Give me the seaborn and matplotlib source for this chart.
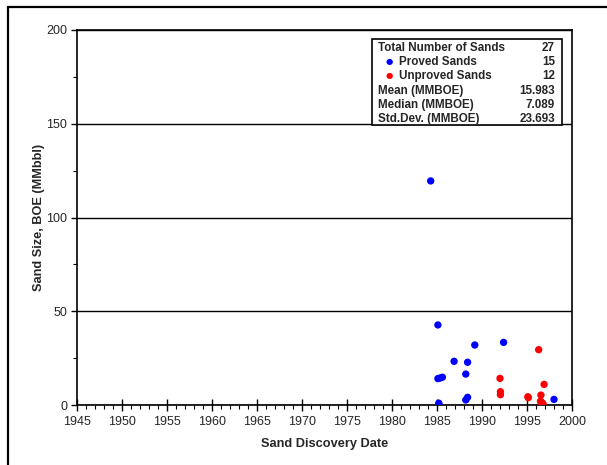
import numpy as np
import pandas as pd
import seaborn as sns
import matplotlib.pyplot as plt
from matplotlib.lines import Line2D
from matplotlib.patches import Rectangle
from matplotlib.ticker import MultipleLocator

# discovery year and size (MMBOE)
proved_year = [1984.3, 1985.1, 1992.4, 1989.2, 1986.9, 1988.4, 1988.2,
               1985.1, 1985.35, 1985.6, 1985.2, 1985.2, 1988.2, 1988.4, 1998.0]
proved_size = [119.5, 42.7, 33.4, 32.0, 23.3, 22.8, 16.5,
               14.1, 14.4, 14.8, 1.0, 0.3, 2.7, 4.1, 3.0]
unproved_year = [1996.3, 1992.0, 1996.9, 1992.05, 1992.05, 1995.1, 1995.15,
                 1996.55, 1996.5, 1996.6, 1996.7, 1996.8]
unproved_size = [29.5, 14.2, 11.0, 7.1, 5.5, 4.4, 3.9,
                 5.3, 2.0, 1.5, 1.0, 0.5]

stats_labels = ["Total Number of Sands", "Proved Sands", "Unproved Sands",
                "Mean (MMBOE)", "Median (MMBOE)", "Std.Dev. (MMBOE)"]
stats_values = ["27", "15", "12", "15.983", "7.089", "23.693"]

df = pd.DataFrame({
    "year": proved_year + unproved_year,
    "size": proved_size + unproved_size,
    "status": ["Proved"] * len(proved_year) + ["Unproved"] * len(unproved_year),
})

sns.set_style("white")
plt.rcParams['font.family'] = ['Liberation Sans', 'DejaVu Sans']

fig = plt.figure(figsize=(6.07, 4.65), dpi=100)
ax = fig.add_axes([0.1269, 0.1290, 0.8154, 0.8065])

ax.yaxis.grid(True, color='black', linewidth=1)
ax.set_axisbelow(True)

sns.scatterplot(data=df, x="year", y="size", hue="status",
                palette={"Proved": "#0000ff", "Unproved": "#ff0000"},
                s=28, edgecolor='none', legend=False, ax=ax, zorder=3)

ax.set_xlim(1945, 2000)
ax.set_ylim(0, 200)
ax.xaxis.set_major_locator(MultipleLocator(5))
ax.xaxis.set_minor_locator(MultipleLocator(1))
ax.yaxis.set_major_locator(MultipleLocator(50))
ax.yaxis.set_minor_locator(MultipleLocator(25))
ax.tick_params(which='both', bottom=True, left=True, top=False, right=False)
ax.tick_params(axis='x', which='major', direction='inout', length=8, width=1,
               labelsize=9, pad=4, color='black')
ax.tick_params(axis='x', which='minor', direction='out', length=3, width=0.8,
               color='black')
ax.tick_params(axis='y', which='major', direction='out', length=4, width=1,
               labelsize=9, pad=3, color='black')
ax.tick_params(axis='y', which='minor', direction='out', length=3, width=0.8,
               color='black')

for sp in ax.spines.values():
    sp.set_color('black')
    sp.set_linewidth(1.2)

ax.set_xlabel("Sand Discovery Date", fontsize=9.2, fontweight='bold', labelpad=7)
ax.set_ylabel("Sand Size, BOE (MMbbl)", fontsize=9.2, fontweight='bold', labelpad=1)

# statistics box
bx0, bx1 = (372 - 77) / 495, (562 - 77) / 495
by0, by1 = (405 - 125) / 375, (405 - 39) / 375
ax.add_patch(Rectangle((bx0, by0), bx1 - bx0, by1 - by0, transform=ax.transAxes,
                       facecolor='white', edgecolor='black', linewidth=1.2, zorder=5))
row_y = [48, 62, 76, 91, 105, 119]
for i, (lab, val) in enumerate(zip(stats_labels, stats_values)):
    yy = (405 - row_y[i]) / 375
    xl = (378 - 77) / 495 if i not in (1, 2) else (399 - 77) / 495
    ax.text(xl, yy, lab, transform=ax.transAxes, fontsize=8.4, fontweight='bold',
            va='center', ha='left', zorder=6)
    ax.text((555 - 77) / 495, yy, val, transform=ax.transAxes, fontsize=8.4,
            fontweight='bold', va='center', ha='right', zorder=6)
    if i in (1, 2):
        ax.text((389 - 77) / 495, yy, "\u25cf", transform=ax.transAxes, fontsize=6,
                color='#0000ff' if i == 1 else '#ff0000', va='center', ha='center',
                family=['DejaVu Sans'], zorder=6)

# outer chart frame (left and top edges visible)
fig.add_artist(Line2D([7.5 / 607, 7.5 / 607], [0, 1 - 7.5 / 465], color='black', lw=1.6))
fig.add_artist(Line2D([7.5 / 607, 1], [1 - 7.5 / 465, 1 - 7.5 / 465], color='black', lw=1.6))

plt.savefig('out.png', dpi=100)
